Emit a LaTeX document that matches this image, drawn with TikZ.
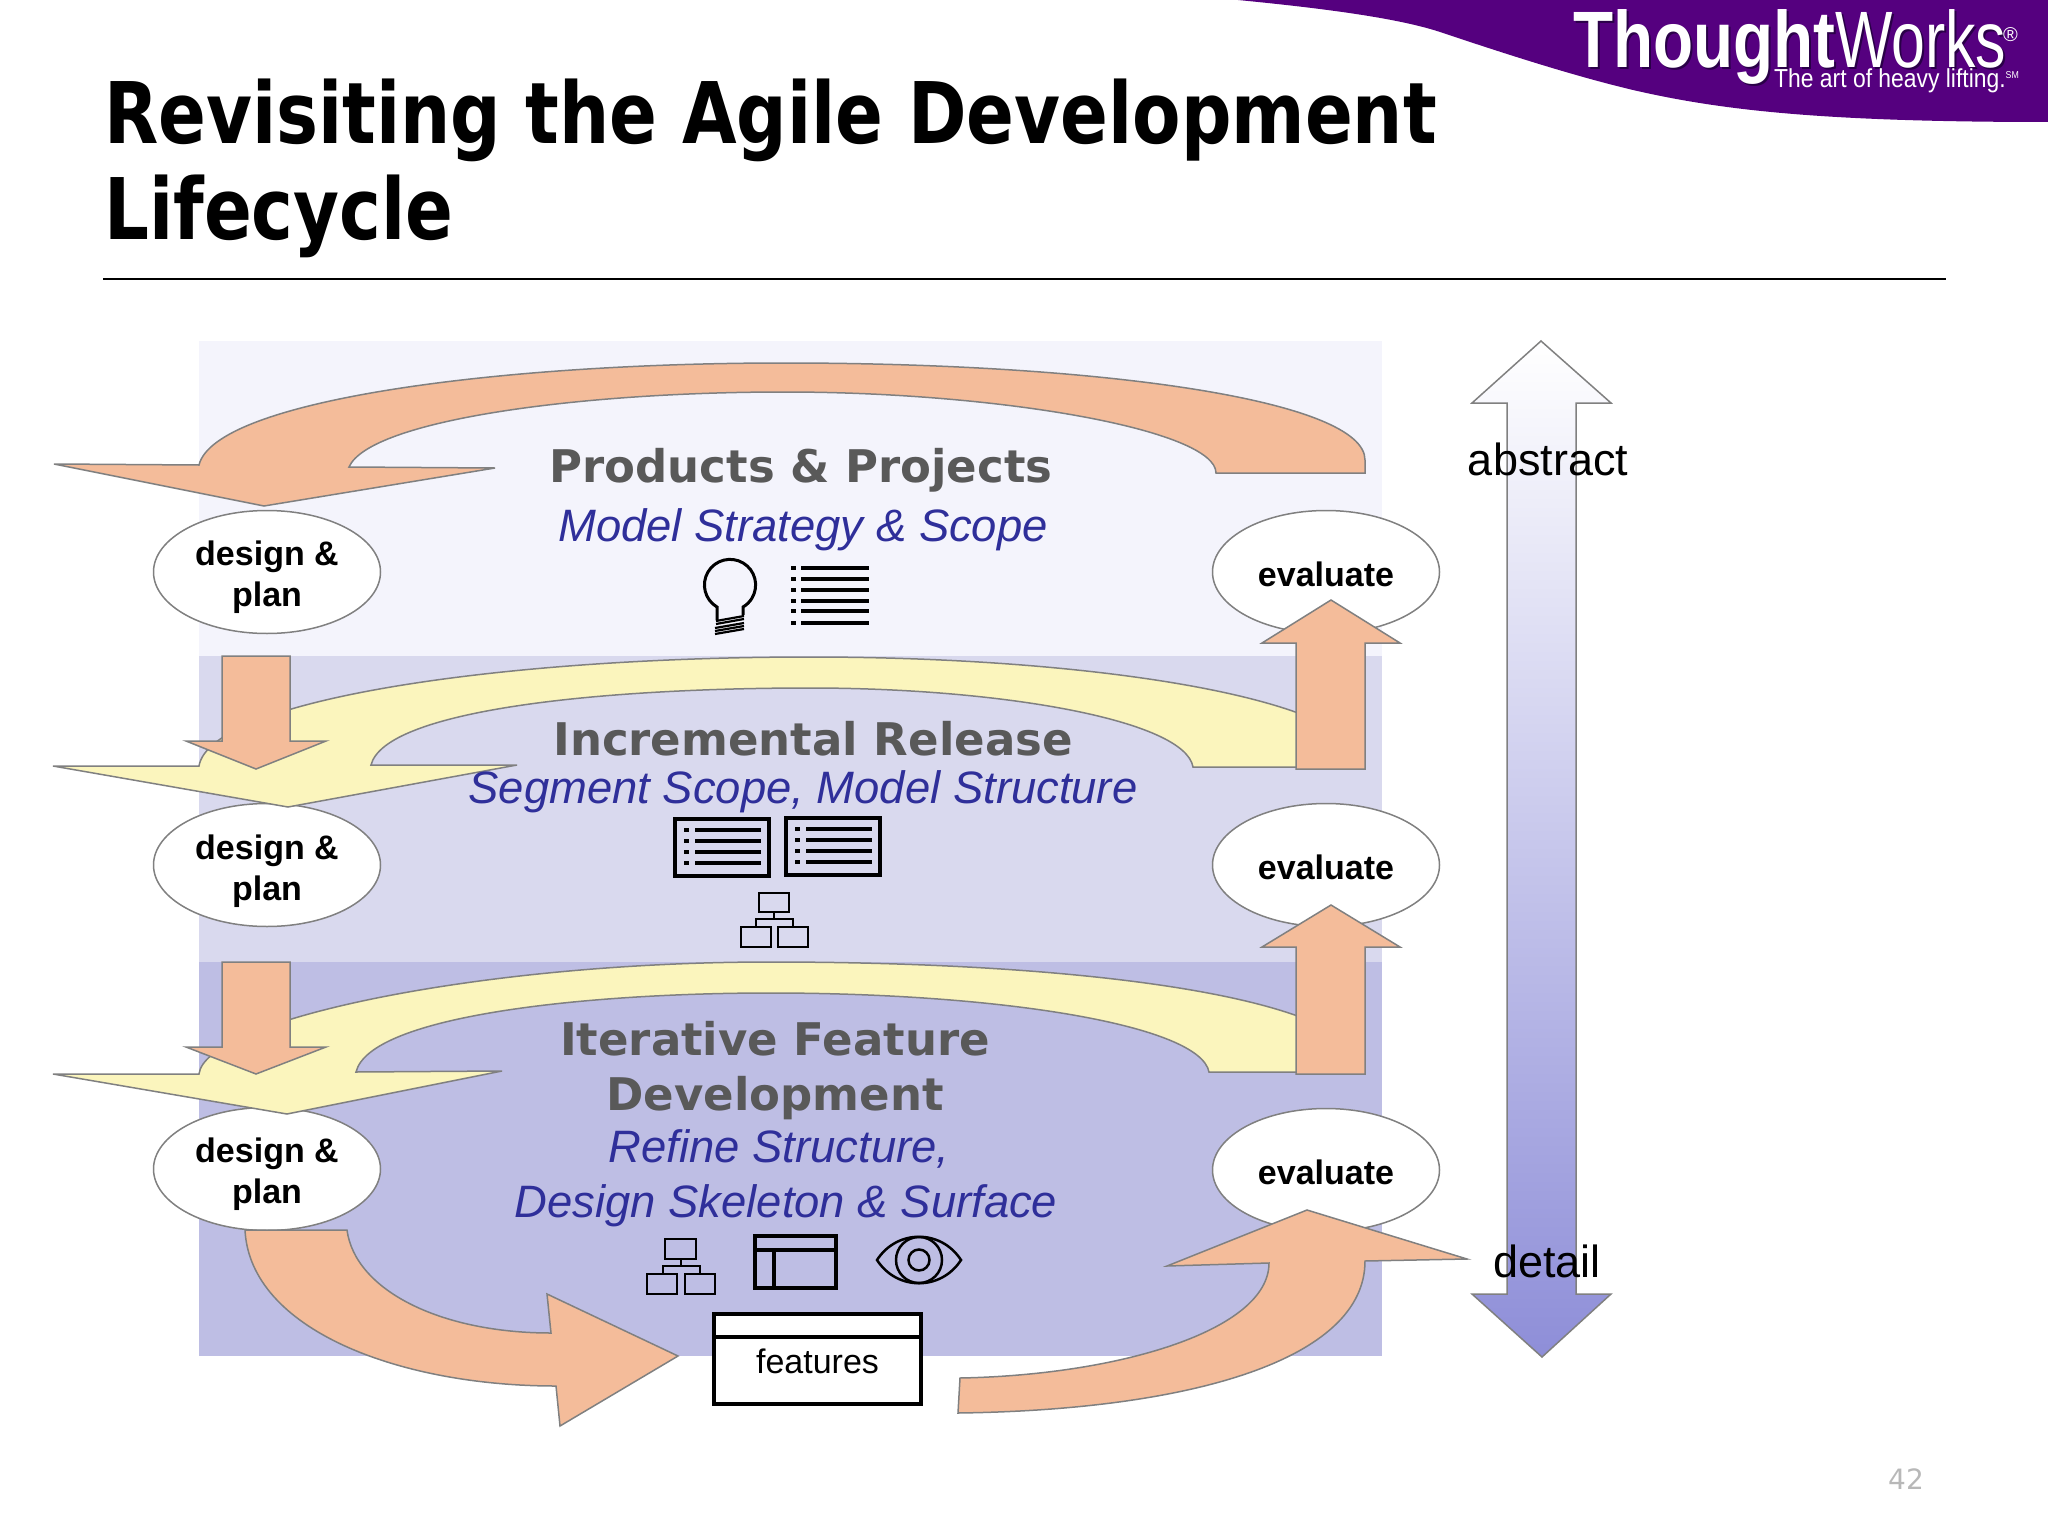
\documentclass[tikz,border=0pt]{standalone}
\usepackage{fontspec}
\setmainfont{Liberation Sans}
\newfontfamily\headfont{DejaVu Sans}
\newfontfamily\titlefont[FakeStretch=0.83]{DejaVu Sans}
\usetikzlibrary{shapes.geometric}
\definecolor{swoosh}{HTML}{55007F}
\definecolor{swooshdark}{HTML}{2A0048}
\definecolor{bandA}{HTML}{F4F4FC}
\definecolor{bandB}{HTML}{D9D9EE}
\definecolor{bandC}{HTML}{BEBEE4}
\definecolor{peach}{HTML}{F4BC9A}
\definecolor{butter}{HTML}{FBF5BD}
\definecolor{edge}{HTML}{808080}
\definecolor{heading}{HTML}{595959}
\definecolor{subheading}{HTML}{2F2F9A}
\definecolor{fadeblue}{HTML}{8E8ED8}
\tikzset{
  peacharrow/.style={draw=edge,line width=1.5,fill=peach},
  butterarrow/.style={draw=edge,line width=1.5,fill=butter},
  activity/.style={ellipse,draw=edge,line width=1.5,fill=white,minimum width=227,minimum height=123,inner sep=0},
  activitytext/.style={anchor=base,font=\fontsize{34}{34}\selectfont\bfseries},
  headtext/.style={anchor=base,text=heading,font=\fontsize{45}{45}\selectfont\headfont\bfseries},
  subtext/.style={anchor=base,text=subheading,font=\fontsize{45.4}{45.4}\selectfont\itshape},
  sidetext/.style={anchor=base,font=\fontsize{45}{45}\selectfont},
  titletext/.style={anchor=base west,inner sep=0,font=\fontsize{85}{85}\selectfont\titlefont\bfseries},
  logotext/.style={anchor=base west,inner sep=0,text=white},
  listline/.style={line width=4,black},
  iconthin/.style={line width=2.5,black},
  iconbox/.style={line width=4,black}
}
\begin{document}
\begin{tikzpicture}[x=1pt,y=-1pt]
\useasboundingbox (0,0) rectangle (2048,1536);

\fill[swoosh] (1238,0) .. controls (1320,8) and (1400,18) .. (1443,33) .. controls (1500,52) and (1570,75) .. (1633,90) .. controls (1720,110) and (1820,122) .. (2048,122) -- (2048,0) -- cycle;
\node (logo_shade) at (1575,70) [logotext,text=swooshdark,font=\fontsize{80}{80}\selectfont\bfseries] {\scalebox{.82}[1]{Thought}};
\node (logo_shadeB) at ([shift={+(262,0)}]logo_shade.base west) [logotext,text=swooshdark,font=\fontsize{80}{80}\selectfont] {\scalebox{.76}[1]{Works}};
\node (logo_A) at ([shift={+(-2,-2)}]logo_shade.base west) [logotext,font=\fontsize{80}{80}\selectfont\bfseries] {\scalebox{.82}[1]{Thought}};
\node (logo_B) at ([shift={+(262,0)}]logo_A.base west) [logotext,font=\fontsize{80}{80}\selectfont] {\scalebox{.76}[1]{Works}};
\node (logo_R) at ([shift={+(168,-26)}]logo_B.base west) [logotext,font=\fontsize{20}{20}\selectfont] {®};
\node (logo_C) at (1774,88) [logotext,font=\fontsize{26}{26}\selectfont] {\scalebox{.88}[1]{The art of heavy lifting.\raisebox{9pt}{\fontsize{10}{10}\selectfont SM}}};

\node (title_A) at (104,143) [titletext] {Revisiting the Agile Development};
\node (title_B) at ([shift={+(0,96)}]title_A.base west) [titletext] {Lifecycle};
\draw[line width=2] (103,279) -- (1946,279);

\fill[bandA] (199,341) rectangle (1382,656);
\fill[bandB] (199,656) rectangle (1382,962);
\fill[bandC] (199,962) rectangle (1382,1356);

\node (DP0) at (267,572) [activity] {};
\node (DP1) at ([shift={+(0,293)}]DP0) [activity] {};
\node (DP2) at ([shift={+(0,597)}]DP0) [activity] {};
\node (EV0) at (1326,572) [activity] {};
\node (EV1) at ([shift={+(0,293)}]EV0) [activity] {};
\node (EV2) at ([shift={+(0,598)}]EV0) [activity] {};

\node (DP0_a) at ([shift={+(0,-7)}]DP0) [activitytext] {design \&};
\node (DP0_b) at ([shift={+(0,34)}]DP0) [activitytext] {plan};
\node (DP1_a) at ([shift={+(0,-6)}]DP1) [activitytext] {design \&};
\node (DP1_b) at ([shift={+(0,35)}]DP1) [activitytext] {plan};
\node (DP2_a) at ([shift={+(0,-7)}]DP2) [activitytext] {design \&};
\node (DP2_b) at ([shift={+(0,34)}]DP2) [activitytext] {plan};
\node (EV0_a) at ([shift={+(0,14)}]EV0) [activitytext] {evaluate};
\node (EV1_a) at ([shift={+(0,14)}]EV1) [activitytext] {evaluate};
\node (EV2_a) at ([shift={+(0,14)}]EV2) [activitytext] {evaluate};

\draw[butterarrow] (199,766) .. controls (210,700) and (500,657) .. (810,657) .. controls (1100,657) and (1365,700) .. (1365,767) -- (1193,767) .. controls (1185,720) and (1000,688) .. (810,688) .. controls (600,688) and (385,710) .. (371,765) -- (517,765) -- (288,807) -- (53,766) -- cycle;
\draw[butterarrow] (199,1074) .. controls (205,1020) and (480,962) .. (770,962) .. controls (1100,962) and (1365,1000) .. (1365,1072) -- (1209,1072) .. controls (1200,1025) and (1000,993) .. (770,993) .. controls (590,993) and (370,1015) .. (356,1072) -- (502,1071) -- (287,1114) -- (53,1074) -- cycle;

\draw[peacharrow] (199,465) .. controls (215,400) and (500,363) .. (784,363) .. controls (1100,363) and (1365,400) .. (1365,460) -- (1365,473) -- (1216,473) .. controls (1216,430) and (1000,392) .. (784,392) .. controls (580,392) and (370,420) .. (349,467) -- (495,468) -- (264,506) -- (54,464) -- cycle;
\draw[peacharrow] (222,656) -- (290,656) -- (290,741) -- (326,741) -- (256,769) -- (186,741) -- (222,741) -- cycle;
\draw[peacharrow] (222,962) -- (290,962) -- (290,1047) -- (326,1047) -- (256,1074) -- (186,1047) -- (222,1047) -- cycle;
\draw[peacharrow] (1296,769) -- (1365,769) -- (1365,643) -- (1400,643) -- (1331,600) -- (1262,643) -- (1296,643) -- cycle;
\draw[peacharrow] (1296,1074) -- (1365,1074) -- (1365,947) -- (1400,947) -- (1331,905) -- (1262,947) -- (1296,947) -- cycle;
\draw[peacharrow] (245,1230) -- (347,1230) .. controls (355,1290) and (440,1333) .. (551,1333) -- (547,1294) -- (678,1356) -- (560,1426) -- (556,1386) .. controls (400,1386) and (250,1330) .. (245,1230) -- cycle;
\draw[peacharrow] (960,1378) .. controls (1120,1375) and (1269,1330) .. (1269,1263) -- (1167,1266) -- (1307,1210) -- (1467,1259) -- (1365,1261) .. controls (1365,1360) and (1190,1410) .. (958,1413) -- cycle;

\node (head_P) at (801,482) [headtext] {Products \& Projects};
\node (sub_P) at (803,541) [subtext] {Model Strategy \& Scope};
\node (head_R) at (813,755) [headtext] {Incremental Release};
\node (sub_R) at (803,803) [subtext] {Segment Scope, Model Structure};
\node (head_F0) at (775,1055) [headtext] {Iterative Feature};
\node (head_F1) at ([shift={+(0,55)}]head_F0.base) [headtext] {Development};
\node (sub_F0) at ([shift={+(4,52)}]head_F1.base) [subtext] {Refine Structure,};
\node (sub_F1) at ([shift={+(7,55)}]sub_F0.base) [subtext] {Design Skeleton \& Surface};

\coordinate (BULB) at (730,585);
\draw[line width=3] ([shift={+(-13,35)}]BULB) -- ([shift={(-13,22)}]BULB) arc (120.6:419.4:25.6) -- ([shift={(13,30)}]BULB);
\draw[line width=2.2] ([shift={+(-14,36)}]BULB) -- +(28,-5);
\draw[line width=2.2] ([shift={+(-14,39)}]BULB) -- +(28,-5);
\draw[line width=2.2] ([shift={+(-15,43)}]BULB) -- +(29,-5);
\draw[line width=2.2] ([shift={+(-15,46)}]BULB) -- +(29,-5);
\draw[line width=2.2] ([shift={+(-15,49)}]BULB) -- +(29,-5);

\coordinate (LST0) at (791,568);
\draw[listline] (LST0) -- +(5,0) ++(10,0) -- +(68,0);
\draw[listline] ([shift={+(0,11)}]LST0) -- +(5,0) ++(10,0) -- +(68,0);
\draw[listline] ([shift={+(0,22)}]LST0) -- +(5,0) ++(10,0) -- +(68,0);
\draw[listline] ([shift={+(0,33)}]LST0) -- +(5,0) ++(10,0) -- +(68,0);
\draw[listline] ([shift={+(0,43)}]LST0) -- +(5,0) ++(10,0) -- +(68,0);
\draw[listline] ([shift={+(0,55)}]LST0) -- +(5,0) ++(10,0) -- +(68,0);

\coordinate (LST1) at (675,819);
\draw[iconbox] (LST1) rectangle +(94,57);
\draw[listline] ([shift={+(9,11)}]LST1) -- +(5,0) ++(11,0) -- +(66,0);
\draw[listline] ([shift={+(9,22)}]LST1) -- +(5,0) ++(11,0) -- +(66,0);
\draw[listline] ([shift={+(9,33)}]LST1) -- +(5,0) ++(11,0) -- +(66,0);
\draw[listline] ([shift={+(9,44)}]LST1) -- +(5,0) ++(11,0) -- +(66,0);
\coordinate (LST2) at ([shift={+(111,-1)}]LST1);
\draw[iconbox] (LST2) rectangle +(94,57);
\draw[listline] ([shift={+(9,11)}]LST2) -- +(5,0) ++(11,0) -- +(66,0);
\draw[listline] ([shift={+(9,22)}]LST2) -- +(5,0) ++(11,0) -- +(66,0);
\draw[listline] ([shift={+(9,33)}]LST2) -- +(5,0) ++(11,0) -- +(66,0);
\draw[listline] ([shift={+(9,44)}]LST2) -- +(5,0) ++(11,0) -- +(66,0);

\coordinate (TREE0) at (759,893);
\draw[iconthin] (TREE0) rectangle +(30,19);
\draw[iconthin] ([shift={+(-18,34)}]TREE0) rectangle +(30,20);
\draw[iconthin] ([shift={+(19,34)}]TREE0) rectangle +(30,20);
\draw[iconthin] ([shift={+(15,19)}]TREE0) -- +(0,7);
\draw[iconthin] ([shift={+(-3,34)}]TREE0) -- +(0,-8) -- +(37,-8) -- +(37,0);

\coordinate (TREE1) at (665,1239);
\draw[iconthin] (TREE1) rectangle +(31,20);
\draw[iconthin] ([shift={+(-18,35)}]TREE1) rectangle +(30,20);
\draw[iconthin] ([shift={+(20,35)}]TREE1) rectangle +(30,20);
\draw[iconthin] ([shift={+(16,20)}]TREE1) -- +(0,7);
\draw[iconthin] ([shift={+(-2,35)}]TREE1) -- +(0,-8) -- +(37,-8) -- +(37,0);

\coordinate (WIN) at (755,1236);
\draw[iconbox] (WIN) rectangle +(81,52);
\draw[iconbox] ([shift={+(0,14)}]WIN) -- +(81,0);
\draw[iconbox] ([shift={+(19,14)}]WIN) -- +(0,38);

\coordinate (EYE) at (919,1260);
\draw[iconthin] ([shift={+(-42,0)}]EYE) .. controls ([shift={(-22,-31)}]EYE) and ([shift={(22,-31)}]EYE) .. ([shift={(42,0)}]EYE) .. controls ([shift={(22,31)}]EYE) and ([shift={(-22,31)}]EYE) .. cycle;
\draw[iconthin] (EYE) circle (23);
\draw[iconthin] (EYE) circle (10.5);

\node (FEAT) at (817.5,1359) [draw,line width=4.5,fill=white,minimum width=207,minimum height=90,inner sep=0] {};
\draw[line width=4] ([shift={+(0,-22)}]FEAT.west) -- +(207,0);
\node (FEAT_t) at ([shift={+(0,14)}]FEAT) [anchor=base,font=\fontsize{34}{34}\selectfont] {features};

\path[draw=edge,line width=1.5,top color=white,bottom color=fadeblue] (1541,341) -- (1611,403) -- (1576,403) -- (1576,1294) -- (1611,1294) -- (1542,1357) -- (1472,1294) -- (1507,1294) -- (1507,403) -- (1472,403) -- cycle;
\node (abstract) at (1548,475) [sidetext] {abstract};
\node (detail) at (1547,1277) [sidetext] {detail};

\node (page) at (1906,1489) [anchor=base,text=black!28,font=\fontsize{28}{28}\selectfont\headfont] {42};
\end{tikzpicture}
\end{document}
